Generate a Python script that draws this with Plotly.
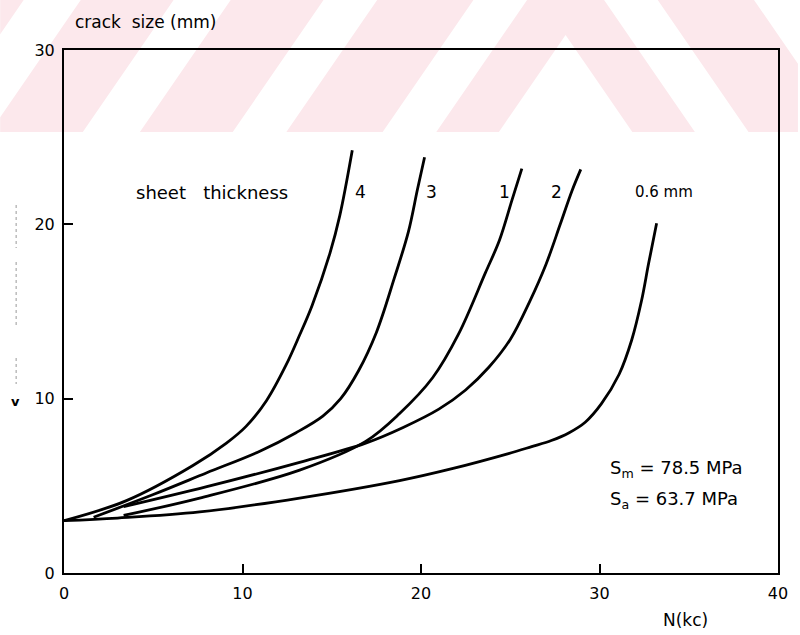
import plotly.graph_objects as go

# Crack growth records: number of cycles N (kc) vs crack size (mm)
n_t06 = [0.0, 3.0, 7.6, 13.2, 18.8, 21.8, 24.9, 26.2, 27.3, 28.3, 29.2, 30.1, 31.1, 31.8, 32.35, 32.75, 33.2]
a_t06 = [3.0, 3.15, 3.5, 4.3, 5.3, 6.0, 6.85, 7.25, 7.6, 8.05, 8.65, 9.7, 11.4, 13.35, 15.6, 17.75, 20.06]

n_t1 = [3.34, 7.6, 13.2, 16.9, 18.8, 20.65, 22.1, 23.6, 24.4, 25.1, 25.65]
a_t1 = [3.3, 4.3, 5.9, 7.55, 9.15, 11.2, 13.7, 17.2, 19.1, 21.4, 23.2]

n_t2 = [3.34, 8.0, 13.2, 16.9, 19.0, 21.0, 22.5, 23.8, 25.0, 26.1, 27.0, 27.8, 28.45, 28.95]
a_t2 = [3.8, 4.95, 6.35, 7.45, 8.35, 9.4, 10.5, 11.8, 13.4, 15.6, 17.7, 20.0, 21.9, 23.15]

n_t3 = [1.66, 5.0, 8.0, 11.0, 13.0, 14.5, 15.5, 16.5, 17.5, 18.5, 19.3, 19.8, 20.2]
a_t3 = [3.2, 4.5, 5.75, 7.0, 8.05, 9.0, 10.0, 11.6, 13.8, 16.9, 19.6, 22.0, 23.85]

n_t4 = [0.0, 3.5, 7.2, 9.1, 10.2, 11.35, 12.45, 13.2, 13.9, 14.9, 15.45, 16.15]
a_t4 = [3.0, 4.15, 6.15, 7.45, 8.41, 9.9, 11.95, 13.65, 15.35, 18.35, 20.5, 24.25]

series = [(n_t06, a_t06), (n_t1, a_t1), (n_t2, a_t2), (n_t3, a_t3), (n_t4, a_t4)]

# curve labels along the top: (text, N position)
curve_labels = [("4", 16.6), ("3", 20.6), ("1", 24.65), ("2", 27.6), ("0.6 mm", 33.6)]
label_level = 21.85

x_ticks = [0, 10, 20, 30, 40]
y_ticks = [0, 10, 20, 30]

FONT = "DejaVu Sans, sans-serif"
W, H = 800, 635
ML, MR, MT, MB = 64, 20, 50, 62

fig = go.Figure()
for n, a in series:
    fig.add_trace(go.Scatter(x=n, y=a, mode="lines",
                             line=dict(color="black", width=2.8, shape="spline", smoothing=1.0),
                             hoverinfo="skip", showlegend=False))


def to_paper(px, py):
    return (px - ML) / (W - ML - MR), (H - MB - py) / (H - MT - MB)


# --- pale chevron band across the top of the page ---
XC, K, Y0, Y1 = 567.0, 1.45, 0.0, 132.0


def band(a, b):
    def p(c, y, s):
        return XC + s * (y - c) / K, y
    ta, tb = max(a, Y0), max(b, Y0)
    pts = [p(a, Y1, -1), p(a, ta, -1), p(a, ta, 1), p(a, Y1, 1)]
    if b < Y1:
        pts += [p(b, Y1, 1), p(b, tb, 1), p(b, tb, -1), p(b, Y1, -1)]
    path = ""
    for i, (px, py) in enumerate(pts):
        qx, qy = to_paper(px, py)
        path += ("M" if i == 0 else "L") + f"{qx:.5f},{qy:.5f} "
    return path + "Z"


shapes = []
x0p, y0p = to_paper(0, 0)
x1p, y1p = to_paper(W, Y1)
shapes.append(dict(type="rect", xref="paper", yref="paper", x0=x0p, y0=y1p, x1=x1p, y1=y0p,
                   fillcolor="#fce8ec", line_width=0, layer="below"))
white_bands = [(35, 400), (-134, -56), (-352, -274), (-570, -487), (-788, -705)]
for a, b in white_bands:
    shapes.append(dict(type="path", xref="paper", yref="paper", path=band(a, b),
                       fillcolor="white", line_width=0, layer="below"))

# faint dotted guide left of the vertical axis
for ya, yb in [(205, 248), (262, 326), (358, 384)]:
    qx, qa = to_paper(16, ya)
    _, qb = to_paper(16, yb)
    shapes.append(dict(type="line", xref="paper", yref="paper", x0=qx, x1=qx, y0=qa, y1=qb,
                       line=dict(color="#9a9a9a", width=1, dash="dot")))


def txt(px, py, text, size, anchor="center", bold=False):
    qx, qy = to_paper(px, py)
    return dict(xref="paper", yref="paper", x=qx, y=qy, text=f"<b>{text}</b>" if bold else text,
                showarrow=False, xanchor=anchor, yanchor="middle",
                font=dict(size=size, family=FONT, color="black"))


annotations = []
annotations.append(dict(x=8.3, y=label_level, text="sheet   thickness", showarrow=False, xanchor="center",
                        yanchor="middle", font=dict(size=18, family=FONT, color="black")))
for label, nx in curve_labels:
    annotations.append(dict(x=nx, y=label_level, text=label, showarrow=False, xanchor="center",
                            yanchor="middle", font=dict(size=17 if label != "0.6 mm" else 15,
                                                        family=FONT, color="black")))
annotations.append(dict(x=30.45, y=5.95, text="S<sub>m</sub> = 78.5 MPa", showarrow=False, xanchor="left",
                        yanchor="middle", font=dict(size=18, family=FONT, color="black")))
annotations.append(dict(x=30.45, y=4.2, text="S<sub>a</sub> = 63.7 MPa", showarrow=False, xanchor="left",
                        yanchor="middle", font=dict(size=18, family=FONT, color="black")))
annotations.append(txt(73, 22, "crack  size (mm)", 17, anchor="left"))
annotations.append(txt(687, 620, "N(kc)", 17))
annotations.append(txt(15, 401, "v", 13, bold=True))

axis_common = dict(showgrid=False, zeroline=False, showline=True, linecolor="black", linewidth=2,
                   mirror=True, ticks="inside", ticklen=9, tickwidth=1.5, tickcolor="black",
                   tickfont=dict(size=16, family=FONT, color="black"))

fig.update_layout(
    width=W, height=H, margin=dict(l=ML, r=MR, t=MT, b=MB),
    paper_bgcolor="white", plot_bgcolor="rgba(0,0,0,0)",
    xaxis=dict(range=[0, 40], tickvals=x_ticks, ticklabelstandoff=5, **axis_common),
    yaxis=dict(range=[0, 30], tickvals=y_ticks, ticklabelstandoff=4, **axis_common),
    shapes=shapes, annotations=annotations, showlegend=False,
)

fig.write_html("out.html")
